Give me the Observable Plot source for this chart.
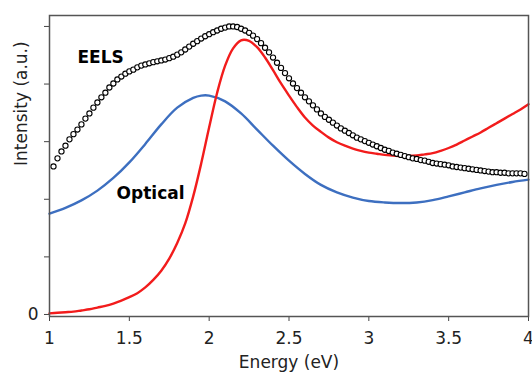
<!DOCTYPE html>
<html>
<head>
<meta charset="utf-8">
<script src="https://cdn.jsdelivr.net/npm/d3@7"></script>
<script src="https://cdn.jsdelivr.net/npm/@observablehq/plot@0.6"></script>
<style>
  html, body { margin: 0; padding: 0; background: #fff; }
  svg { display: block; }
</style>
</head>
<body>
<div id="chart"></div>
<script>
// EELS spectrum (circles)
const eelsEnergy = [1.025,1.05,1.075,1.1,1.125,1.15,1.175,1.2,1.225,1.25,1.275,1.3,1.325,1.35,1.375,1.4,1.425,1.45,1.475,1.5,
  1.525,1.55,1.575,1.6,1.625,1.65,1.675,1.7,1.725,1.75,1.775,1.8,1.825,1.85,1.875,1.9,1.925,1.95,1.975,2.0,
  2.025,2.05,2.075,2.1,2.125,2.15,2.175,2.2,2.225,2.25,2.275,2.3,2.325,2.35,2.375,2.4,2.425,2.45,2.475,2.5,
  2.525,2.55,2.575,2.6,2.625,2.65,2.675,2.7,2.725,2.75,2.775,2.8,2.825,2.85,2.875,2.9,2.925,2.95,2.975,3.0,
  3.025,3.05,3.075,3.1,3.125,3.15,3.175,3.2,3.225,3.25,3.275,3.3,3.325,3.35,3.375,3.4,3.425,3.45,3.475,3.5,
  3.525,3.55,3.575,3.6,3.625,3.65,3.675,3.7,3.725,3.75,3.775,3.8,3.825,3.85,3.875,3.9,3.925,3.95,3.975];
const eelsIntensity = [2.57,2.71,2.83,2.93,3.04,3.13,3.21,3.30,3.40,3.49,3.59,3.68,3.77,3.85,3.94,4.01,4.08,4.13,4.18,4.22,
  4.25,4.29,4.32,4.34,4.36,4.38,4.395,4.41,4.425,4.45,4.475,4.51,4.55,4.60,4.65,4.70,4.745,4.79,4.83,4.865,
  4.90,4.93,4.96,4.98,5.00,5.00,4.99,4.96,4.93,4.89,4.84,4.78,4.71,4.63,4.55,4.46,4.37,4.28,4.19,4.10,
  4.01,3.93,3.85,3.77,3.70,3.63,3.56,3.49,3.43,3.38,3.33,3.28,3.23,3.19,3.15,3.11,3.07,3.04,3.01,2.98,
  2.95,2.92,2.89,2.86,2.84,2.81,2.79,2.77,2.75,2.73,2.71,2.70,2.68,2.67,2.65,2.63,2.62,2.61,2.60,2.59,
  2.57,2.56,2.55,2.54,2.53,2.52,2.51,2.50,2.49,2.48,2.47,2.47,2.46,2.46,2.45,2.45,2.45,2.45,2.44];

// Red curve
const redEnergy = [1.0,1.05,1.1,1.15,1.2,1.25,1.3,1.35,1.4,1.45,1.5,1.55,1.6,1.65,1.7,1.75,1.8,1.85,1.9,1.95,
  2.0,2.05,2.1,2.15,2.2,2.25,2.3,2.35,2.4,2.45,2.5,2.55,2.6,2.65,2.7,2.75,2.8,2.85,2.9,2.95,
  3.0,3.05,3.1,3.15,3.2,3.25,3.3,3.35,3.4,3.45,3.5,3.55,3.6,3.65,3.7,3.75,3.8,3.85,3.9,3.95,4.0];
const redIntensity = [0.02,0.03,0.04,0.05,0.07,0.09,0.12,0.15,0.19,0.24,0.30,0.37,0.47,0.60,0.76,0.97,1.24,1.58,2.05,2.62,
  3.25,3.85,4.32,4.62,4.76,4.75,4.64,4.46,4.24,4.01,3.80,3.60,3.42,3.28,3.17,3.07,2.99,2.93,2.88,2.84,
  2.81,2.79,2.77,2.76,2.75,2.75,2.76,2.78,2.80,2.84,2.89,2.95,3.02,3.09,3.16,3.24,3.32,3.40,3.48,3.56,3.65];

// Optical (blue curve)
const opticalEnergy = [1.0,1.1,1.2,1.3,1.4,1.5,1.6,1.7,1.8,1.9,1.95,2.0,2.1,2.2,2.3,2.4,2.5,2.6,2.7,2.8,2.9,
  3.0,3.1,3.2,3.3,3.4,3.5,3.6,3.7,3.8,3.9,4.0];
const opticalIntensity = [1.75,1.85,1.98,2.15,2.37,2.64,2.96,3.30,3.59,3.76,3.80,3.80,3.70,3.49,3.21,2.93,2.67,2.44,2.25,2.12,2.03,
  1.97,1.945,1.935,1.945,1.985,2.05,2.12,2.19,2.25,2.30,2.34];

const xTicks = [1, 1.5, 2, 2.5, 3, 3.5, 4];
const yTicks = [0, 1, 2, 3, 4, 5];
const yTickLabels = ["0", "", "", "", "", ""];

const eels = eelsEnergy.map((e, i) => ({e, v: eelsIntensity[i]}));
const red = redEnergy.map((e, i) => ({e, v: redIntensity[i]}));
const optical = opticalEnergy.map((e, i) => ({e, v: opticalIntensity[i]}));

const chart = Plot.plot({
  width: 532,
  height: 376,
  marginLeft: 49,
  marginRight: 4,
  marginTop: 15,
  marginBottom: 60,
  style: {fontFamily: "DejaVu Sans, Verdana, sans-serif", fontSize: "17px", color: "#222", background: "#fff"},
  x: {domain: [1, 4]},
  y: {domain: [-0.035, 5.19]},
  marks: [
    Plot.line(optical, {x: "e", y: "v", stroke: "#3d6fc0", strokeWidth: 2.4, curve: d3.curveCatmullRom}),
    Plot.line(red, {x: "e", y: "v", stroke: "#f21c1c", strokeWidth: 2.4, curve: d3.curveCatmullRom}),
    Plot.dot(eels, {x: "e", y: "v", r: 2.6, stroke: "#000", strokeWidth: 1.1, fill: "#fff"}),
    Plot.axisX({ticks: xTicks, tickSize: 5, tickPadding: 10, stroke: "#444", fill: "#222", fontSize: 17, label: null, tickFormat: d => String(d)}),
    Plot.axisY({ticks: yTicks, tickSize: 5, tickPadding: 6, stroke: "#444", fill: "#222", fontSize: 17, label: null,
      tickFormat: d => yTickLabels[yTicks.indexOf(d)]}),
    Plot.frame({stroke: "#555", strokeWidth: 1.5}),
    Plot.text(["EELS"], {x: 1.175, y: 4.46, text: d => d, textAnchor: "start", fontWeight: "bold", fontSize: 17, fill: "#000"}),
    Plot.text(["Optical"], {x: 1.42, y: 2.10, text: d => d, textAnchor: "start", fontWeight: "bold", fontSize: 17, fill: "#000"}),
    Plot.text(["Energy (eV)"], {frameAnchor: "bottom", dy: 51, text: d => d, fontSize: 17, fill: "#222"}),
    Plot.text(["Intensity (a.u.)"], {frameAnchor: "left", dx: -28, rotate: -90, text: d => d, fontSize: 17, fill: "#222"})
  ]
});
document.getElementById("chart").appendChild(chart);
</script>
</body>
</html>
